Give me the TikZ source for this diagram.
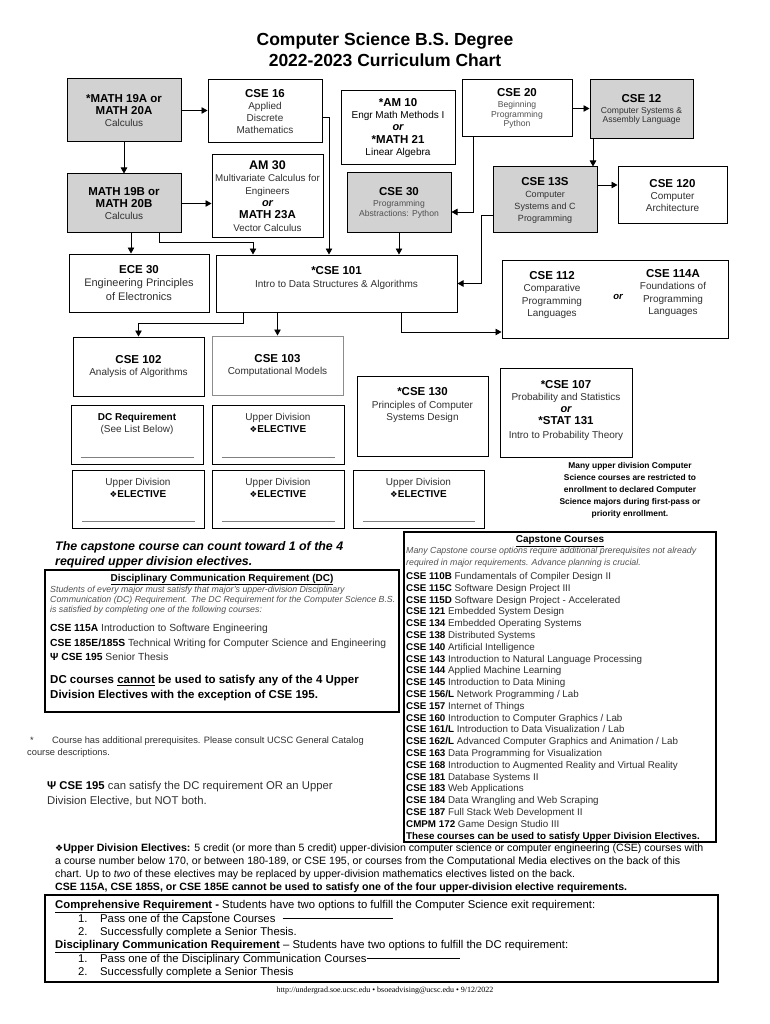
\documentclass[tikz,border=0pt]{standalone}
\usepackage{fontspec}
\setmainfont{Liberation Sans}
\newfontfamily\dingfont{DejaVu Sans}
\newfontfamily\footerfont{Liberation Serif}
\usetikzlibrary{arrows.meta,positioning}
\definecolor{boxgray}{HTML}{D2D2D2}
\definecolor{desc}{HTML}{303030}
\definecolor{softdesc}{HTML}{505050}
\tikzset{
  course/.style={rectangle,draw=black,line width=1pt,fill=white,align=center,inner sep=0.5pt,text=desc,font=\fontsize{10}{12.3}\selectfont},
  coursegray/.style={course,fill=boxgray},
  smallfont/.style={font=\fontsize{8.6}{9.8}\selectfont},
  arrow/.style={-{Triangle[length=6pt,width=6.5pt]},line width=0.9pt},
  blankline/.style={draw=black!50,line width=0.6pt},
  txt/.style={anchor=base west,inner sep=0pt},
  ctxt/.style={anchor=base,inner sep=0pt,align=center},
}
\newcommand{\cname}[1]{{\color{black}\bfseries\fontsize{11.5}{13}\selectfont #1}}
\newcommand{\orword}{{\color{black}\bfseries\itshape\fontsize{11}{13}\selectfont or}}
\newcommand{\elective}{{\color{black}{\dingfont\fontsize{8.5}{10}\selectfont ❖}\textbf{ELECTIVE}}}
\begin{document}
\begin{tikzpicture}[x=1pt,y=-1pt]
\useasboundingbox (0,0) rectangle (770,1024);
% title
\node[ctxt,font=\bfseries\fontsize{17.5}{21}\selectfont] (title1) at (385,46) {Computer Science B.S. Degree};
\node[ctxt,font=\bfseries\fontsize{17.5}{21}\selectfont] (title2) at (385,67) {2022-2023 Curriculum Chart};

% lower division
\node[coursegray,minimum width=114,minimum height=63] (m19a) at (124,110.5)
  {\cname{*MATH 19A or}\\\cname{MATH 20A}\\Calculus};
\node[course,minimum width=114,minimum height=63] (cse16) at (265,111.5)
  {\cname{CSE 16}\\Applied\\Discrete\\Mathematics};
\node[course,minimum width=111,minimum height=82,font=\fontsize{9.8}{12.3}\selectfont] (am30) at (267.5,196)
  {\cname{\fontsize{12.5}{13}\selectfont AM 30}\\Multivariate Calculus for\\Engineers\\\orword\\\cname{MATH 23A}\\Vector Calculus};
\node[coursegray,minimum width=114,minimum height=59] (m19b) at (124,203.5)
  {\cname{MATH 19B or}\\\cname{MATH 20B}\\Calculus};
\node[course,minimum width=114,minimum height=74,text=black] (am10) at (398,128)
  {\cname{*AM 10}\\Engr Math Methods I\\\orword\\\cname{*MATH 21}\\Linear Algebra};
\node[course,smallfont,minimum width=110,minimum height=57,text=softdesc] (cse20) at (517,108.5)
  {\cname{CSE 20}\\[1pt]Beginning\\Programming\\Python};
\node[coursegray,smallfont,minimum width=103,minimum height=59] (cse12) at (641.5,109.5)
  {\cname{CSE 12}\\[1pt]Computer Systems \&\\Assembly Language};
\node[coursegray,smallfont,minimum width=104,minimum height=60,text=softdesc] (cse30) at (399,203)
  {\cname{CSE 30}\\[1pt]Programming\\Abstractions: Python};
\node[coursegray,minimum width=104,minimum height=66,font=\fontsize{9}{12}\selectfont] (cse13s) at (545,200)
  {\cname{CSE 13S}\\Computer\\Systems and C\\Programming};
\node[course,minimum width=109,minimum height=57] (cse120) at (672.5,195.5)
  {\cname{CSE 120}\\Computer\\Architecture};
\node[course,minimum width=140,minimum height=58,font=\fontsize{11}{13.5}\selectfont] (ece30) at (139,283)
  {\cname{ECE 30}\\Engineering Principles\\of Electronics};
\node[course,minimum width=241,minimum height=57] (cse101) at (336.5,283.5) {};
\node[below=8pt of cse101.north,align=center,text=desc,font=\fontsize{10}{13}\selectfont] (cse101t)
  {\cname{*CSE 101}\\Intro to Data Structures \& Algorithms};

% upper division
\node[course,minimum width=226,minimum height=78] (cse112) at (615,299) {};
\node[align=center,text=desc,font=\fontsize{10}{12.3}\selectfont] (cse112t) at (552,295)
  {\cname{CSE 112}\\Comparative\\Programming\\Languages};
\node[font=\bfseries\itshape\fontsize{9.5}{11}\selectfont] (or112) at (618,297) {or};
\node[align=center,text=desc,font=\fontsize{10}{12.3}\selectfont] (cse114t) at (673,293)
  {\cname{CSE 114A}\\Foundations of\\Programming\\Languages};
\node[course,minimum width=131,minimum height=59] (cse102) at (138.5,366.5)
  {\cname{CSE 102}\\Analysis of Algorithms};
\node[course,draw=black!45,minimum width=131,minimum height=59] (cse103) at (277.5,365.5)
  {\cname{CSE 103}\\Computational Models};
\node[course,minimum width=131,minimum height=80] (cse130) at (422.5,416.5) {};
\node[below=8pt of cse130.north,align=center,text=desc,font=\fontsize{10}{12.5}\selectfont] (cse130t)
  {\cname{*CSE 130}\\Principles of Computer\\Systems Design};
\node[course,minimum width=132,minimum height=89] (cse107) at (566,412.5) {};
\node[below=9pt of cse107.north,align=center,text=desc,font=\fontsize{10}{12.3}\selectfont] (cse107t)
  {\cname{*CSE 107}\\Probability and Statistics\\\orword\\\cname{*STAT 131}\\[1pt]Intro to Probability Theory};

% requirement and elective slots
\node[course,minimum width=132,minimum height=59] (dcreq) at (137,434.5) {};
\node[below=5pt of dcreq.north,align=center,text=desc,font=\fontsize{10}{12.5}\selectfont] (dcreqt)
  {\textbf{\color{black}DC Requirement}\\(See List Below)};
\node[course,minimum width=132,minimum height=59] (ude1) at (278,434.5) {};
\node[below=5pt of ude1.north,align=center,text=desc,font=\fontsize{10}{12.3}\selectfont] (ude1t)
  {Upper Division\\\elective};
\node[course,minimum width=132,minimum height=58] (ude2) at (138,499) {};
\node[below=5pt of ude2.north,align=center,text=desc,font=\fontsize{10}{12.3}\selectfont] (ude2t)
  {Upper Division\\\elective};
\node[course,minimum width=132,minimum height=58] (ude3) at (278,499) {};
\node[below=5pt of ude3.north,align=center,text=desc,font=\fontsize{10}{12.3}\selectfont] (ude3t)
  {Upper Division\\\elective};
\node[course,minimum width=131,minimum height=58] (ude4) at (418.5,499) {};
\node[below=5pt of ude4.north,align=center,text=desc,font=\fontsize{10}{12.3}\selectfont] (ude4t)
  {Upper Division\\\elective};
\draw[blankline] ([xshift=10pt,yshift=7pt]dcreq.south west) -- ([xshift=-10pt,yshift=7pt]dcreq.south east);
\draw[blankline] ([xshift=10pt,yshift=7pt]ude1.south west) -- ([xshift=-10pt,yshift=7pt]ude1.south east);
\draw[blankline] ([xshift=10pt,yshift=7pt]ude2.south west) -- ([xshift=-10pt,yshift=7pt]ude2.south east);
\draw[blankline] ([xshift=10pt,yshift=7pt]ude3.south west) -- ([xshift=-10pt,yshift=7pt]ude3.south east);
\draw[blankline] ([xshift=10pt,yshift=7pt]ude4.south west) -- ([xshift=-10pt,yshift=7pt]ude4.south east);

% prerequisite arrows
\draw[arrow] (m19a.east) -- (m19a.east -| cse16.west);
\draw[arrow] (m19a) -- (m19b);
\draw[arrow] (m19b.east) -- (m19b.east -| am30.west);
\draw[arrow] ([xshift=7pt]m19b.south) -- ([xshift=7pt]m19b.south |- ece30.north);
\draw[arrow] ([xshift=35pt]m19b.south) -- ++(0,9) -| ([xshift=-83.5pt]cse101.north);
\draw[arrow] ([yshift=-5.5pt]cse16.east) -| ([xshift=-7.5pt]cse101.north);
\draw[arrow] (cse30.south) -- (cse30.south |- cse101.north);
\draw[arrow] ([xshift=-44pt]cse20.south) |- ([yshift=-9pt]cse30.east);
\draw[arrow] (cse20.east) -- (cse20.east -| cse12.west);
\draw[arrow] ([xshift=-48.5pt]cse12.south) -- ([xshift=-48.5pt]cse12.south |- cse13s.north);
\draw[arrow] ([yshift=15pt]cse13s.east) -- ([yshift=15pt]cse13s.east -| cse120.west);
\draw[arrow] ([yshift=-15pt]cse13s.west) -- ++(-11,0) |- (cse101.east);
\draw[arrow] ([xshift=64.5pt]cse101.south) |- ([yshift=-33pt]cse112.west);
\draw[arrow] ([xshift=-93.5pt]cse101.south) -- ++(0,11) -| (cse102.north);
\draw[arrow] (cse103.north |- cse101.south) -- (cse103.north);

% note on restricted enrollment
\node[anchor=north,inner sep=0pt,align=center,font=\bfseries\fontsize{8.4}{12}\selectfont] (restrict) at (630,462.5)
  {Many upper division Computer\\Science courses are restricted to\\enrollment to declared Computer\\Science majors during first-pass or\\priority enrollment.};

% capstone remark
\node[txt,font=\bfseries\itshape\fontsize{12.4}{15}\selectfont] (capnote1) at (55,550.5) {The capstone course can count toward 1 of the 4};
\node[txt,font=\bfseries\itshape\fontsize{12.4}{15}\selectfont] (capnote2) at (55,565.5) {required upper division electives.};

% DC box
\node[course,line width=1.2pt,minimum width=354,minimum height=142] (dcbox) at (222,641) {};
\node[below=1pt of dcbox.north,text=black,font=\bfseries\fontsize{10}{12}\selectfont] (dchead)
  {\underline{Disciplinary Communication Requirement (DC)}};
\node[txt,text=softdesc,font=\itshape\fontsize{8.8}{10}\selectfont] (dcit1) at (50,592.5) {Students of every major must satisfy that major's upper-division Disciplinary};
\node[txt,text=softdesc,font=\itshape\fontsize{8.8}{10}\selectfont] (dcit2) at (50,602.5) {Communication (DC) Requirement. The DC Requirement for the Computer Science B.S.};
\node[txt,text=softdesc,font=\itshape\fontsize{8.8}{10}\selectfont] (dcit3) at (50,612.5) {is satisfied by completing one of the following courses:};
\node[txt,text=desc,font=\fontsize{10.3}{12}\selectfont] (dc115) at (50,631.5) {\textbf{\color{black}CSE 115A} Introduction to Software Engineering};
\node[txt,text=desc,font=\fontsize{10.3}{12}\selectfont] (dc185) at (50,646.5) {\textbf{\color{black}CSE 185E/185S} Technical Writing for Computer Science and Engineering};
\node[txt,text=desc,font=\fontsize{10.3}{12}\selectfont] (dc195) at (50,660.5) {\textbf{\color{black}Ψ CSE 195} Senior Thesis};
\node[txt,font=\bfseries\fontsize{11.5}{14}\selectfont] (dcwarn1) at (50,683.5) {DC courses \underline{cannot} be used to satisfy any of the 4 Upper};
\node[txt,font=\bfseries\fontsize{11.5}{14}\selectfont] (dcwarn2) at (50,698.5) {Division Electives with the exception of CSE 195.};

% footnotes
\node[txt,text=desc,font=\fontsize{9.3}{11}\selectfont] (star) at (30,743.5) {*};
\node[txt,text=desc,font=\fontsize{9.3}{11}\selectfont] (foot1) at (52,743.5) {Course has additional prerequisites. Please consult UCSC General Catalog};
\node[txt,text=desc,font=\fontsize{9.3}{11}\selectfont] (foot2) at (27,755.5) {course descriptions.};
\node[txt,text=desc,font=\fontsize{11.3}{13}\selectfont] (psi1) at (47,789) {\textbf{\color{black}Ψ CSE 195} can satisfy the DC requirement OR an Upper};
\node[txt,text=desc,font=\fontsize{11.3}{13}\selectfont] (psi2) at (47,804) {Division Elective, but NOT both.};

% capstone list
\node[course,line width=1.2pt,minimum width=312,minimum height=310] (capbox) at (560,687) {};
\node[below=1pt of capbox.north,text=black,font=\bfseries\fontsize{10}{11}\selectfont] (caphead) {\underline{Capstone Courses}};
\node[txt,text=softdesc,font=\itshape\fontsize{8.8}{10}\selectfont] (capit1) at (406,553) {Many Capstone course options require additional prerequisites not already};
\node[txt,text=softdesc,font=\itshape\fontsize{8.8}{10}\selectfont] (capit2) at (406,565) {required in major requirements. Advance planning is crucial.};
\foreach \code/\what [count=\i] in {
  CSE 110B/Fundamentals of Compiler Design II,
  CSE 115C/Software Design Project III,
  CSE 115D/Software Design Project - Accelerated,
  CSE 121/Embedded System Design,
  CSE 134/Embedded Operating Systems,
  CSE 138/Distributed Systems,
  CSE 140/Artificial Intelligence,
  CSE 143/Introduction to Natural Language Processing,
  CSE 144/Applied Machine Learning,
  CSE 145/Introduction to Data Mining,
  {CSE 156/L}/{Network Programming / Lab},
  CSE 157/Internet of Things,
  CSE 160/{Introduction to Computer Graphics / Lab},
  {CSE 161/L}/{Introduction to Data Visualization / Lab},
  {CSE 162/L}/{Advanced Computer Graphics and Animation / Lab},
  CSE 163/Data Programming for Visualization,
  CSE 168/Introduction to Augmented Reality and Virtual Reality,
  CSE 181/Database Systems II,
  CSE 183/Web Applications,
  CSE 184/Data Wrangling and Web Scraping,
  CSE 187/Full Stack Web Development II,
  CMPM 172/Game Design Studio III}
  \node[txt,text=desc,font=\fontsize{9.8}{11}\selectfont] (cap\i) at (406,{579.5+11.8*(\i-1)}) {\textbf{\color{black}\code} \what};
\node[txt,font=\bfseries\fontsize{9.8}{11}\selectfont] (capuse) at (406,839.2) {These courses \underline{can} be used to satisfy Upper Division Electives.};

% upper division elective rule
\node[txt,font=\fontsize{10.6}{12}\selectfont] (udrule1) at (55,851.6) {{\dingfont\fontsize{9}{10}\selectfont ❖}\textbf{Upper Division Electives:} 5 credit (or more than 5 credit) upper-division computer science or computer engineering (CSE) courses with};
\node[txt,font=\fontsize{10.6}{12}\selectfont] (udrule2) at (55,864.6) {a course number below 170, or between 180-189, or CSE 195, or courses from the Computational Media electives on the back of this};
\node[txt,font=\fontsize{10.6}{12}\selectfont] (udrule3) at (55,877.6) {chart. Up to \textit{two} of these electives may be replaced by upper-division mathematics electives listed on the back.};
\node[txt,font=\bfseries\fontsize{10.6}{12}\selectfont] (udrule4) at (55,890.6) {CSE 115A, CSE 185S, or CSE 185E cannot be used to satisfy one of the four upper-division elective requirements.};

% exit requirements
\node[course,line width=1.2pt,minimum width=673,minimum height=87] (exitbox) at (381.5,938.5) {};
\node[txt,font=\fontsize{11.3}{13}\selectfont] (comp) at (55,908) {\textbf{\underline{Comprehensive Requirement}} \textbf{-} Students have two options to fulfill the Computer Science exit requirement:};
\node[txt,font=\fontsize{11.3}{13}\selectfont] (comp1) at (78,922) {\makebox[22pt][l]{1.}Pass one of the Capstone Courses};
\node[txt,font=\fontsize{11.3}{13}\selectfont] (comp2) at (78,935) {\makebox[22pt][l]{2.}Successfully complete a Senior Thesis.};
\node[txt,font=\fontsize{11.3}{13}\selectfont] (dcr) at (55,948) {\textbf{\underline{Disciplinary Communication Requirement}} -- Students have two options to fulfill the DC requirement:};
\node[txt,font=\fontsize{11.3}{13}\selectfont] (dcr1) at (78,962) {\makebox[22pt][l]{1.}Pass one of the Disciplinary Communication Courses};
\node[txt,font=\fontsize{11.3}{13}\selectfont] (dcr2) at (78,975) {\makebox[22pt][l]{2.}Successfully complete a Senior Thesis};
\coordinate (capmark) at (393,918);
\coordinate (dcmark) at (460,958);
\draw[line width=0.8pt] ([xshift=7pt,yshift=4pt]comp1.base east) -- (capmark);
\draw[line width=0.8pt] ([yshift=4pt]dcr1.base east) -- (dcmark);

% footer
\node[ctxt,font=\footerfont\fontsize{8}{10}\selectfont] (footer) at (385,992.5) {http://undergrad.soe.ucsc.edu • bsoeadvising@ucsc.edu • 9/12/2022};
\end{tikzpicture}
\end{document}
